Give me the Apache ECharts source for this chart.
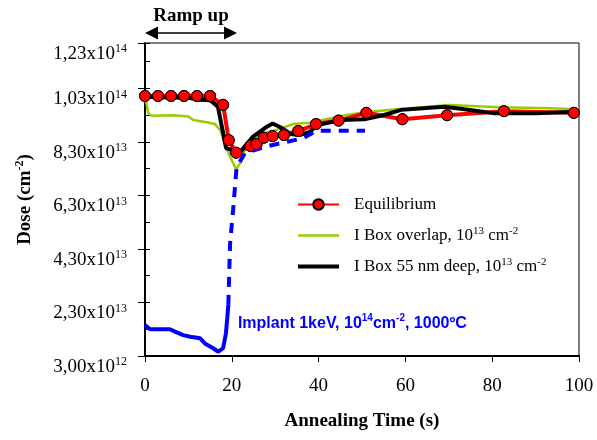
<!DOCTYPE html>
<html><head><meta charset="utf-8">
<script src="https://cdn.jsdelivr.net/npm/echarts@6/dist/echarts.min.js"></script>
<style>html,body{margin:0;padding:0;background:#fff}#c{width:597px;height:440px}</style>
</head><body><div id="c"></div>
<script>
// ---- data (dose values in units of 1e13 cm^-2) ----
const eqTime = [0,3,6,9,12,15,18,19.3,21,24.3,25.7,27.4,29.4,32.0,35.3,39.4,44.6,51.0,59.3,69.6,82.7,98.8];
const eqDose = [10.02,10.02,10.02,10.02,10.02,10.02,9.69,8.37,7.90,8.15,8.22,8.46,8.52,8.56,8.71,8.97,9.10,9.39,9.15,9.30,9.45,9.39];

const ovTime = [0,0.77,1.5,6.5,10.0,11.1,14.2,16.1,17.3,18.4,19.6,21.0,21.9,23.0,24.9,27.2,30.3,34.1,38.0,41.0,46.4,51.8,58.0,70.2,81.7,93.3,100];
const ovDose = [10.0,9.37,9.28,9.30,9.25,9.12,9.04,8.97,8.75,8.25,7.75,7.28,7.5,8.0,8.37,8.62,8.75,8.97,9.02,9.12,9.31,9.43,9.52,9.68,9.60,9.56,9.52];

const deepTime = [0,3,10,12.5,15,16.8,18.7,20.3,22,24.9,28.1,29.4,31.2,33.5,35.6,38.0,39.7,45.1,50.5,55.1,59,69,73.6,80.6,89.9,100];
const deepDose = [10.0,9.97,9.95,9.88,9.86,9.62,8.06,8.0,7.94,8.5,8.87,8.99,8.85,8.6,8.56,8.68,8.93,9.12,9.15,9.31,9.5,9.62,9.52,9.37,9.37,9.43];

const impSolidTime = [0,1.15,5.75,6.9,8.8,10.4,12.7,13.8,15.7,16.9,18.0,18.65,18.95,19.2];
const impSolidDose = [1.46,1.30,1.30,1.21,1.08,1.02,0.96,0.77,0.59,0.46,0.59,1.15,1.71,2.21];
const impDashTime = [19.2,19.6,20.3,21.1,23.0,27.6,36.4,39.5,50.7];
const impDashDose = [2.21,4.5,5.76,7.35,7.88,8.12,8.44,8.72,8.72];

const yTickMain = ['3,00x10','2,30x10','4,30x10','6,30x10','8,30x10','1,03x10','1,23x10'];
const yTickExp  = ['12','13','13','13','13','14','14'];

const seriesNames = ['Equilibrium','I Box overlap, 10^13 cm^-2','I Box 55 nm deep, 10^13 cm^-2'];
const legendRich = {
  'Equilibrium': '{m|Equilibrium}',
  'I Box overlap, 10^13 cm^-2': '{m|I Box overlap, 10}{s|13}{m| cm}{s|-2}',
  'I Box 55 nm deep, 10^13 cm^-2': '{m|I Box 55 nm deep, 10}{s|13}{m| cm}{s|-2}'
};

const U = 1e13;
const pairs = (t, d) => t.map((x, i) => [x, d[i] * U]);

const SERIF = '"Liberation Serif", "Times New Roman", serif';
const SANS = '"Liberation Sans", Arial, sans-serif';

const chart = echarts.init(document.getElementById('c'));
const yMin = 3e12, yMax = 1.2e14, yInt = 2e13;

chart.setOption({
  animation: false,
  backgroundColor: '#fff',
  grid: { left: 145, right: 18, top: 43, bottom: 84, show: true, borderColor: '#000', borderWidth: 1, backgroundColor: 'transparent' },
  legend: {
    orient: 'vertical', left: 297, top: 196, padding: 0, itemWidth: 41, itemHeight: 13, itemGap: 12.5,
    data: [
      { name: seriesNames[0] },
      { name: seriesNames[1], icon: 'path://M0 0H41V2.5H0Z' },
      { name: seriesNames[2], icon: 'path://M0 0H41V4H0Z' }
    ],
    formatter: n => legendRich[n],
    textStyle: {
      padding: [0, 0, 0, 10],
      rich: {
        m: { fontFamily: SERIF, fontSize: 17, color: '#000', lineHeight: 20 },
        s: { fontFamily: SERIF, fontSize: 11, color: '#000', verticalAlign: 'top', lineHeight: 10 }
      }
    }
  },
  xAxis: {
    type: 'value', min: 0, max: 100, interval: 20,
    name: 'Annealing Time (s)', nameLocation: 'middle', nameGap: 56,
    nameTextStyle: { fontFamily: SERIF, fontSize: 19, fontWeight: 'bold', color: '#000' },
    axisLine: { onZero: false, lineStyle: { color: '#000', width: 2 } },
    axisTick: { show: true, length: 6, lineStyle: { color: '#000', width: 1 } },
    axisLabel: { fontFamily: SERIF, fontSize: 19, color: '#000', margin: 21 },
    splitLine: { show: false }
  },
  yAxis: [{
    type: 'value', min: yMin, max: yMax, interval: yInt,
    name: '{t|Dose (cm}{s|-2}{t|)}', nameLocation: 'middle', nameGap: 109, nameRotate: 90,
    nameTextStyle: { rich: {
      t: { fontFamily: SERIF, fontSize: 19, fontWeight: 'bold', color: '#000', lineHeight: 22 },
      s: { fontFamily: SERIF, fontSize: 12, fontWeight: 'bold', color: '#000', verticalAlign: 'top', lineHeight: 12 }
    } },
    axisLine: { onZero: false, lineStyle: { color: '#000', width: 2 } },
    axisTick: { show: true, length: 7, lineStyle: { color: '#000', width: 1 } },
    axisLabel: {
      margin: 18, verticalAlign: 'top',
      formatter: v => { const i = Math.round((v - yMin) / yInt); return '{m|' + yTickMain[i] + '}{s|' + yTickExp[i] + '}'; },
      rich: {
        m: { fontFamily: SERIF, fontSize: 19, color: '#000', lineHeight: 22 },
        s: { fontFamily: SERIF, fontSize: 12, color: '#000', verticalAlign: 'top', lineHeight: 12 }
      }
    },
    splitLine: { show: false }
  }, {
    type: 'value', min: yMin, max: yMax, interval: yInt, position: 'left',
    axisLine: { show: false },
    axisTick: { show: true, inside: true, length: 5, lineStyle: { color: '#000', width: 1 } },
    minorTick: { show: true, splitNumber: 2, length: 5, lineStyle: { color: '#000', width: 1 } },
    axisLabel: { show: false },
    splitLine: { show: false }
  }],
  series: [
    { name: seriesNames[1], type: 'line', data: pairs(ovTime, ovDose), symbol: 'none', z: 2,
      lineStyle: { color: '#99CC00', width: 2.5 }, itemStyle: { color: '#99CC00' } },
    { name: seriesNames[0], type: 'line', data: pairs(eqTime, eqDose), symbol: 'circle', symbolSize: 11, z: 3,
      lineStyle: { color: '#FF0000', width: 4 }, itemStyle: { color: '#FF0000', borderColor: '#000', borderWidth: 1 } },
    { name: seriesNames[2], type: 'line', data: pairs(deepTime, deepDose), symbol: 'none', z: 4,
      lineStyle: { color: '#000', width: 4 }, itemStyle: { color: '#000' } },
    { name: 'impSolid', type: 'line', data: pairs(impSolidTime, impSolidDose), symbol: 'none', z: 5,
      lineStyle: { color: '#0000FF', width: 4 } },
    { name: 'impDash', type: 'line', data: pairs(impDashTime, impDashDose), symbol: 'none', z: 5,
      lineStyle: { color: '#0000FF', width: 4, type: [10, 8] } },
    { name: 'eqMarkers', type: 'scatter', data: pairs(eqTime, eqDose), symbol: 'circle', symbolSize: 11, z: 6,
      itemStyle: { color: '#FF0000', borderColor: '#000', borderWidth: 1, opacity: 1 } }
  ]
});

// annotations placed through the axes' scales
const px = (x, y) => chart.convertToPixel({ gridIndex: 0 }, [x, y]);
const a0 = px(0, yMax), a1 = px(21.2, yMax);
const ay = a0[1] - 10;
const tp = px(21.4, 1.53e13);
chart.setOption({
  graphic: [
    { type: 'line', shape: { x1: a0[0] + 8, y1: ay, x2: a1[0] - 8, y2: ay }, style: { stroke: '#000', lineWidth: 1.5 } },
    { type: 'polygon', shape: { points: [[a0[0], ay], [a0[0] + 13, ay - 6.5], [a0[0] + 13, ay + 6.5]] }, style: { fill: '#000' } },
    { type: 'polygon', shape: { points: [[a1[0], ay], [a1[0] - 13, ay - 6.5], [a1[0] - 13, ay + 6.5]] }, style: { fill: '#000' } },
    { type: 'text', x: (a0[0] + a1[0]) / 2, y: 16, style: { text: 'Ramp up', fontFamily: SERIF, fontSize: 19, fontWeight: 'bold', fill: '#000', align: 'center', verticalAlign: 'middle' } },
    { type: 'text', x: tp[0], y: tp[1], style: {
        text: '{b|Implant 1keV, 10}{bs|14}{b|cm}{bs|-2}{b|, 1000ºC}', align: 'left', verticalAlign: 'middle',
        rich: {
          b: { fontFamily: SANS, fontSize: 16, fontWeight: 'bold', fill: '#0000FF', lineHeight: 20 },
          bs: { fontFamily: SANS, fontSize: 10, fontWeight: 'bold', fill: '#0000FF', verticalAlign: 'top', lineHeight: 10 }
        } } }
  ]
});
</script>
</body></html>
